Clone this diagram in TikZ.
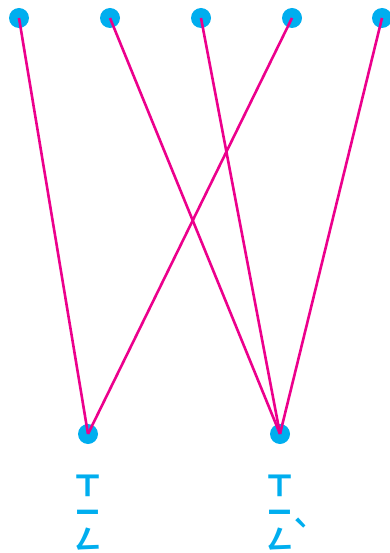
\documentclass[tikz,border=0pt]{standalone}
\usepackage{fontspec}
\newfontfamily\bpmf{Noto Sans CJK TC}
\definecolor{dotc}{HTML}{00AEEF}
\definecolor{linec}{HTML}{EC008C}
\begin{document}
\begin{tikzpicture}[x=1pt,y=-1pt,
  dot/.style={circle,fill=dotc,inner sep=0pt,minimum size=20pt},
  link/.style={draw=linec,line width=2.6pt},
  lab/.style={text=dotc,font=\bpmf\bfseries\fontsize{27}{27}\selectfont,align=center,inner sep=0pt}]
\useasboundingbox (0,0) rectangle (389,553);
\node[dot] (t1) at (19,18) {};
\node[dot] (t2) at (110,18) {};
\node[dot] (t3) at (201,18) {};
\node[dot] (t4) at (292,18) {};
\node[dot] (t5) at (382,18) {};
\node[dot] (b1) at (88,434) {};
\node[dot] (b2) at (280,434) {};
\draw[link] (t1.center) -- (b1.center);
\draw[link] (t4.center) -- (b1.center);
\draw[link] (t2.center) -- (b2.center);
\draw[link] (t3.center) -- (b2.center);
\draw[link] (t5.center) -- (b2.center);
\node[lab] (l1) at (88,513) {ㄒ\\ㄧ\\ㄥ};
\node[lab] (l2) at (280,513) {ㄒ\\ㄧ\\ㄥ};
\node[lab,font=\bpmf\bfseries\fontsize{24}{24}\selectfont] (tone) at (301,528) {ˋ};
\end{tikzpicture}
\end{document}
